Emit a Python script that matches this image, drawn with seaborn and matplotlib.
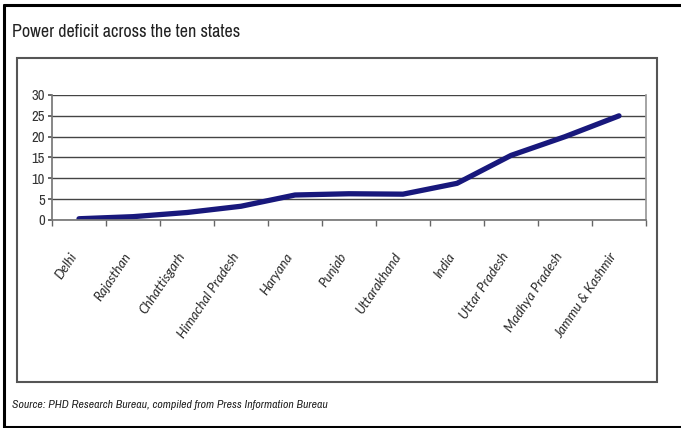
import matplotlib
matplotlib.use("Agg")
import matplotlib.pyplot as plt
import matplotlib.transforms as mtransforms
import seaborn as sns
import pandas as pd
import numpy as np
from matplotlib.patches import Rectangle
from matplotlib.lines import Line2D
from matplotlib import font_manager

states = ["Delhi", "Rajasthan", "Chhattisgarh", "Himachal Pradesh", "Haryana", "Punjab",
          "Uttarakhand", "India", "Uttar Pradesh", "Madhya Pradesh", "Jammu & Kashmir"]
deficit = [0.3, 0.8, 1.8, 3.3, 6.0, 6.3, 6.2, 8.8, 15.5, 20.0, 25.0]
yticks = [0, 5, 10, 15, 20, 25, 30]
title = "Power deficit across the ten states"
source = "Source: PHD Research Bureau, compiled from Press Information Bureau"

sns.set_theme(style="white")

names = sorted({f.name for f in font_manager.fontManager.ttflist})
narrow = [n for n in names if "Narrow" in n or "Condensed" in n]
fam = narrow[0] if narrow else "Lato"
plt.rcParams['font.family'] = [fam, 'DejaVu Sans']

fig = plt.figure(figsize=(6.81, 4.28), dpi=100)
W, H = 681, 428
ax = fig.add_axes([52 / W, 1 - 220 / H, (646 - 52) / W, (220 - 95) / H])

df = pd.DataFrame({"state": states, "deficit": deficit, "x": np.arange(len(states))})
sns.lineplot(data=df, x="x", y="deficit", ax=ax, color="#18187c", linewidth=3.8, sort=False)

ax.set_xlim(-0.5, len(states) - 0.5)
ax.set_ylim(0, 30)
ax.set_yticks(yticks)
ax.set_yticklabels([str(t) for t in yticks], fontsize=10.5, color="#333333")
ax.set_xticks(np.arange(len(states)))
ax.set_xticks(np.arange(len(states) + 1) - 0.5, minor=True)
ax.tick_params(axis="x", which="major", length=0, pad=22)
ax.tick_params(axis="x", which="minor", length=4, direction="out", color="#666666", bottom=True)
ax.tick_params(axis="y", length=3, direction="out", color="#555555", left=True, pad=2)
ax.set_xticklabels(states, rotation=56, ha="right", rotation_mode="anchor",
                   fontsize=9.5, style="italic", color="#2a2a2a", family=["Lato", "DejaVu Sans"])
offset = mtransforms.ScaledTranslation(-10 / 100, 0, fig.dpi_scale_trans)
for lab in ax.get_xticklabels():
    lab.set_transform(lab.get_transform() + offset)
ax.set_xlabel("")
ax.set_ylabel("")
ax.grid(axis="y", color="#444444", linewidth=1)
ax.set_axisbelow(True)
ax.spines["top"].set_visible(False)
ax.spines["right"].set_color("#999999")
ax.spines["left"].set_color("#777777")
ax.spines["bottom"].set_color("#777777")

# inner chart frame
fig.add_artist(Rectangle((17 / W, 1 - 382 / H), (657 - 17) / W, (382 - 58) / H,
                         transform=fig.transFigure, fill=False, edgecolor="#555555", linewidth=1.5))
# outer frame (left, top, bottom)
for xs, ys in [([4 / W, 4 / W], [1 - 5 / H, 1 - 427 / H]),
               ([4 / W, 1.0], [1 - 5 / H, 1 - 5 / H]),
               ([4 / W, 1.0], [1 - 427 / H, 1 - 427 / H])]:
    fig.add_artist(Line2D(xs, ys, transform=fig.transFigure, color="black", linewidth=2.2))

fig.text(12 / W, 1 - 32 / H, title, fontsize=13, color="#222222", va="center", ha="left")
fig.text(12 / W, 1 - 405 / H, source, fontsize=8.5, style="italic",
         color="#222222", va="center", ha="left")

fig.savefig("out.png", dpi=100)
